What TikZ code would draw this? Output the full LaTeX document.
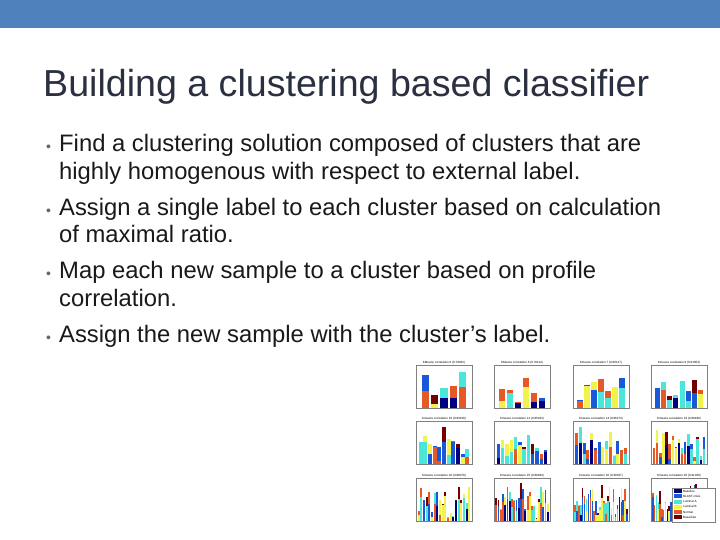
\documentclass[tikz,border=0pt]{standalone}
\usepackage{fontspec}
\setmainfont{Liberation Sans}
\definecolor{topbar}{HTML}{4F81BD}
\definecolor{titlec}{HTML}{2A3040}
\definecolor{col1}{rgb}{0,0,0.5}
\definecolor{col2}{rgb}{0.1,0.35,0.85}
\definecolor{col3}{rgb}{0.3,0.9,0.85}
\definecolor{col4}{rgb}{0.95,0.95,0.3}
\definecolor{col5}{rgb}{0.9,0.35,0.15}
\definecolor{col6}{rgb}{0.45,0,0}
\tikzset{bul/.style={anchor=base west,inner sep=0,font=\fontsize{23.8}{28}\selectfont,text=black!90},
 dot/.style={anchor=base west,inner sep=0,font=\fontsize{14}{14}\selectfont,text=gray!80!black},
 ptitle/.style={inner sep=0,font=\fontsize{3}{3}\selectfont,anchor=south}}
\newcommand\panel[4]{%
 \begin{scope}[shift={(#1,#2)}]
 \fill[white] (0,0) rectangle (56,43);
 \pgfmathsetmacro\dx{56/(#3+1)}
 \pgfmathsetmacro\bw{\dx*0.8}
 \foreach \i in {1,...,#3}{%
   \pgfmathsetmacro\ha{3+rnd*22}
   \pgfmathsetmacro\hb{rnd*16}
   \pgfmathrandominteger\ca{1}{5}
   \pgfmathrandominteger\cb{2}{6}
   \fill[col\ca] (\i*\dx-\bw/2,43) rectangle ++(\bw,-\ha);
   \fill[col\cb] (\i*\dx-\bw/2,43-\ha) rectangle ++(\bw,-\hb);
 }
 \draw[gray,line width=0.3pt] (0,0) rectangle (56,43);
 \node[ptitle] (t) at (28,-0.5) {#4};
 \end{scope}}
\begin{document}
\begin{tikzpicture}[x=1pt,y=-1pt]
\useasboundingbox (0,0) rectangle (720,540);
\fill[white] (0,0) rectangle (720,540);
\fill[topbar] (0,0) rectangle (720,28);
\node[anchor=base west,inner sep=0,font=\fontsize{37.6}{42}\selectfont,text=titlec] (title) at (43,97) {Building a clustering based classifier};
\node[dot] (d1) at (46,152) {•};
\node[bul] (b1) at (59,152) {Find a clustering solution composed of clusters that are};
\node[bul] (b1b) at (59,180) {highly homogenous with respect to external label.};
\node[dot] (d2) at (46,215) {•};
\node[bul] (b2) at (59,215) {Assign a single label to each cluster based on calculation};
\node[bul] (b2b) at (59,243) {of maximal ratio.};
\node[dot] (d3) at (46,278) {•};
\node[bul] (b3) at (59,278) {Map each new sample to a cluster based on profile};
\node[bul] (b3b) at (59,306) {correlation.};
\node[dot] (d4) at (46,342) {•};
\node[bul] (b4) at (59,342) {Assign the new sample with the cluster’s label.};
\pgfmathsetseed{11}
\panel{416}{365}{5}{KMeans correlation 6 (0.78032)}
\panel{494}{365}{6}{KMeans correlation 6 (0.78114)}
\panel{573}{365}{7}{Kmeans correlation 7 (0.80127)}
\panel{651}{365}{8}{Kmeans correlation 8 (0.81853)}
\panel{416}{421}{11}{Kmeans correlation 10 (0.83429)}
\panel{494}{421}{12}{Kmeans correlation 12 (0.85203)}
\panel{573}{421}{14}{Kmeans correlation 14 (0.86273)}
\panel{651}{421}{17}{Kmeans correlation 16 (0.86940)}
\panel{416}{478}{20}{Kmeans correlation 20 (0.88079)}
\panel{494}{478}{24}{Kmeans correlation 25 (0.89284)}
\panel{573}{478}{28}{Kmeans correlation 30 (0.90367)}
\panel{651}{478}{30}{Kmeans correlation 40 (0.91360)}
\fill[white] (672,488) rectangle (715,522);
\draw[gray,line width=0.3pt] (672,488) rectangle (715,522);
\foreach \k/\lab in {1/Baseline,2/BLAST-crisis,3/Luminal A,4/Luminal B,5/Normal,6/Basal-like}{
  \fill[col\k] (674,488+\k*5.2-4) rectangle ++(8,4);
  \node[anchor=west,inner sep=0,font=\fontsize{3}{3}\selectfont] (l\k) at (683,488+\k*5.2-2) {\lab};
}
\end{tikzpicture}
\end{document}
